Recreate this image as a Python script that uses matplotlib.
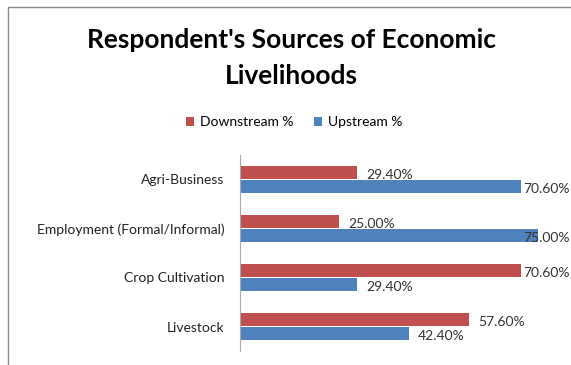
import matplotlib.pyplot as plt
from matplotlib.patches import Rectangle
import numpy as np

categories = ["Agri-Business", "Employment (Formal/Informal)", "Crop Cultivation", "Livestock"]
downstream = [29.4, 25.0, 70.6, 57.6]
upstream = [70.6, 75.0, 29.4, 42.4]
series_names = ["Downstream %", "Upstream %"]

RED = "#C0504D"
BLUE = "#4F81BD"
FONT = "Lato"

W, H = 571, 365
fig = plt.figure(figsize=(W / 100, H / 100), dpi=100)

# chart frame (right and bottom cut off)
fig.patches.append(Rectangle((8 / W, -0.1), 1.2, (H - 7) / H + 0.1,
                             transform=fig.transFigure, fill=False,
                             edgecolor="#8c8c8c", linewidth=1))

ax = fig.add_axes([240 / W, 14 / H, 318 / W, 196 / H])

y = np.arange(len(categories))
bar_h = 0.27
gap = 0.03
y_down = y - bar_h / 2 - gap / 2
y_up = y + bar_h / 2 + gap / 2
ax.barh(y_down, downstream, height=bar_h, color=RED, label=series_names[0])
ax.barh(y_up, upstream, height=bar_h, color=BLUE, label=series_names[1])

ax.set_xlim(0, 80)
ax.set_ylim(len(categories) - 0.5, -0.5)
ax.set_yticks(y)
ax.set_yticklabels(categories, fontsize=10, family=FONT, color="#222222")
ax.tick_params(axis="y", length=0, pad=11)
ax.set_xticks([])
for side in ["top", "right", "bottom"]:
    ax.spines[side].set_visible(False)
ax.spines["left"].set_color("#aaaaaa")

# value labels, pushed back inside the chart if they would run off the right edge
labels_txt = []
for vals, ys in [(downstream, y_down), (upstream, y_up)]:
    for v, yy in zip(vals, ys):
        t = ax.text(v + 2.3, yy + 0.05, f"{v:.2f}%", va="center", ha="left",
                    fontsize=10, color="#333333", family=FONT, clip_on=False)
        labels_txt.append(t)

fig.canvas.draw()
renderer = fig.canvas.get_renderer()
for t in labels_txt:
    bb = t.get_window_extent(renderer)
    if bb.x1 > W - 1:
        x_px = W - 1 - bb.width
        x_data = ax.transData.inverted().transform((x_px, 0))[0]
        t.set_x(x_data)

fig.text(0.51, 1 - 58 / H, "Respondent's Sources of Economic\nLivelihoods",
         ha="center", va="center", multialignment="center", fontsize=19,
         fontweight="bold", family=FONT, linespacing=1.65)

handles, labels = ax.get_legend_handles_labels()
fig.legend(handles, labels, loc="center", bbox_to_anchor=(294 / W, 1 - 122 / H),
           ncol=2, frameon=False, handlelength=0.6, handleheight=0.6,
           columnspacing=1.5, handletextpad=0.4, prop={"family": FONT, "size": 10})

fig.savefig("out.png", dpi=100)
